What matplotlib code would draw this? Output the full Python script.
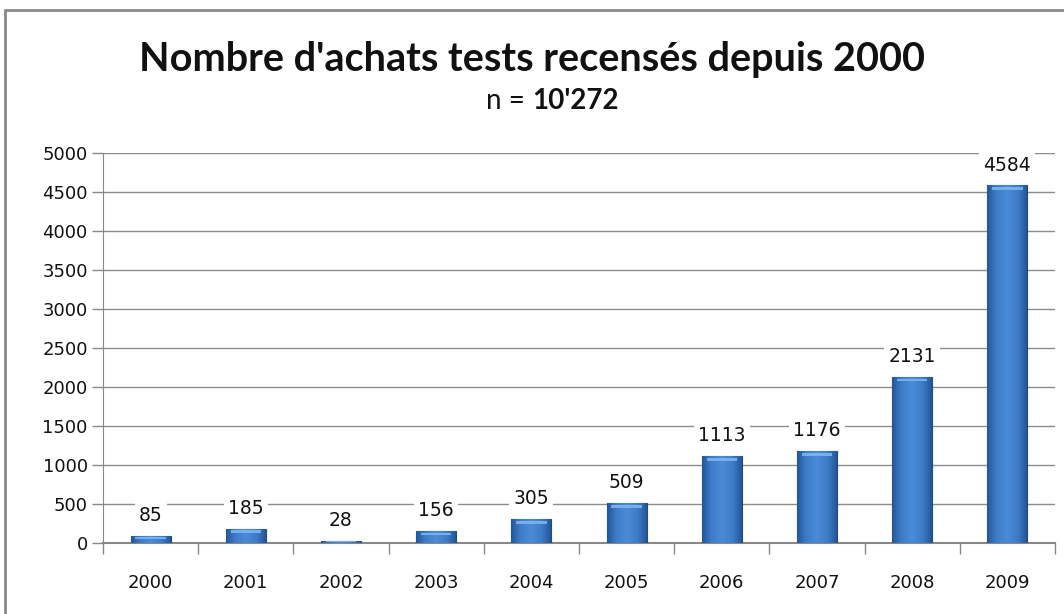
import matplotlib
matplotlib.use("Agg")
import matplotlib.pyplot as plt
import numpy as np
from matplotlib.patches import Rectangle
from matplotlib.colors import LinearSegmentedColormap

years = ["2000", "2001", "2002", "2003", "2004", "2005", "2006", "2007", "2008", "2009"]
counts = [85, 185, 28, 156, 305, 509, 1113, 1176, 2131, 4584]
yticks = [0, 500, 1000, 1500, 2000, 2500, 3000, 3500, 4000, 4500, 5000]
title = "Nombre d'achats tests recensés depuis 2000"
subtitle_plain = "n = "
subtitle_bold = "10'272"

title_font = ["Lato", "DejaVu Sans"]

fig = plt.figure(figsize=(10.64, 6.14), dpi=100)
fig.patch.set_facecolor("white")
fig.add_artist(Rectangle((5/1064, -0.05), 1.2, 1 - 10/614 + 0.05, transform=fig.transFigure,
                         fill=False, edgecolor="#8a8a8a", linewidth=2))

ax = fig.add_axes([103/1064, 1 - 543/614, (1055 - 103)/1064, (543 - 153)/614])
x = np.arange(len(years))
bars = ax.bar(x, counts, width=0.42, color="#3b77c2", edgecolor="#1e4a80", linewidth=0.8, zorder=3)

grad = np.linspace(0, 1, 64)
prof = 1 - 0.55 * np.abs(grad - 0.5) * 2
cmap = LinearSegmentedColormap.from_list("b", ["#1f4f8f", "#3d7cc8", "#4a8ad6"])
img = np.tile(prof, (2, 1))
for b in bars:
    x0, y0 = b.get_x(), b.get_y()
    w, h = b.get_width(), b.get_height()
    im = ax.imshow(img, extent=[x0, x0 + w, y0, y0 + h], aspect="auto", cmap=cmap,
                   vmin=0.4, vmax=1.0, zorder=3.5, origin="lower")
    im.set_clip_path(b)
    cap = min(h * 0.4, 70)
    ax.add_patch(Rectangle((x0 + w * 0.12, y0 + h - cap * 0.85), w * 0.76, cap * 0.5,
                           facecolor="#80b8f2", edgecolor="none", alpha=0.85, zorder=4))
    ax.text(x0 + w / 2, y0 + h + 140, f"{int(h)}", ha="center", va="bottom", fontsize=13.5,
            color="#111111", zorder=5,
            bbox=dict(facecolor="white", edgecolor="none", pad=3))

ax.set_xlim(-0.5, len(years) - 0.5)
ax.set_ylim(0, 5000)
ax.set_yticks(yticks)
ax.set_yticklabels([str(v) for v in yticks], fontsize=13, color="#111111")
ax.set_xticks(x)
ax.set_xticklabels(years, fontsize=13, color="#111111")
ax.tick_params(axis="x", which="major", length=0, pad=22)
ax.set_xticks(np.arange(-0.5, len(years) + 0.5, 1), minor=True)
ax.tick_params(axis="x", which="minor", length=8, color="#888888", width=1)
ax.tick_params(axis="y", length=8, color="#888888", width=1, pad=3)
ax.grid(axis="y", color="#8c8c8c", linewidth=1, zorder=0)
ax.set_axisbelow(True)
for s in ["top", "right"]:
    ax.spines[s].set_visible(False)
ax.spines["left"].set_color("#888888")
ax.spines["bottom"].set_color("#888888")
ax.spines["bottom"].set_linewidth(1.5)

fig.text(0.5, 1 - 60/614, title, ha="center", va="center", fontsize=28.5, fontweight="bold",
         family=title_font, color="#111111")
fig.text(0.5, 1 - 101/614, subtitle_plain, ha="right", va="center", fontsize=20,
         family=title_font, color="#111111")
fig.text(0.5, 1 - 101/614, subtitle_bold, ha="left", va="center", fontsize=20,
         fontweight="bold", family=title_font, color="#111111")

fig.savefig("out.png", dpi=100, facecolor="white")
